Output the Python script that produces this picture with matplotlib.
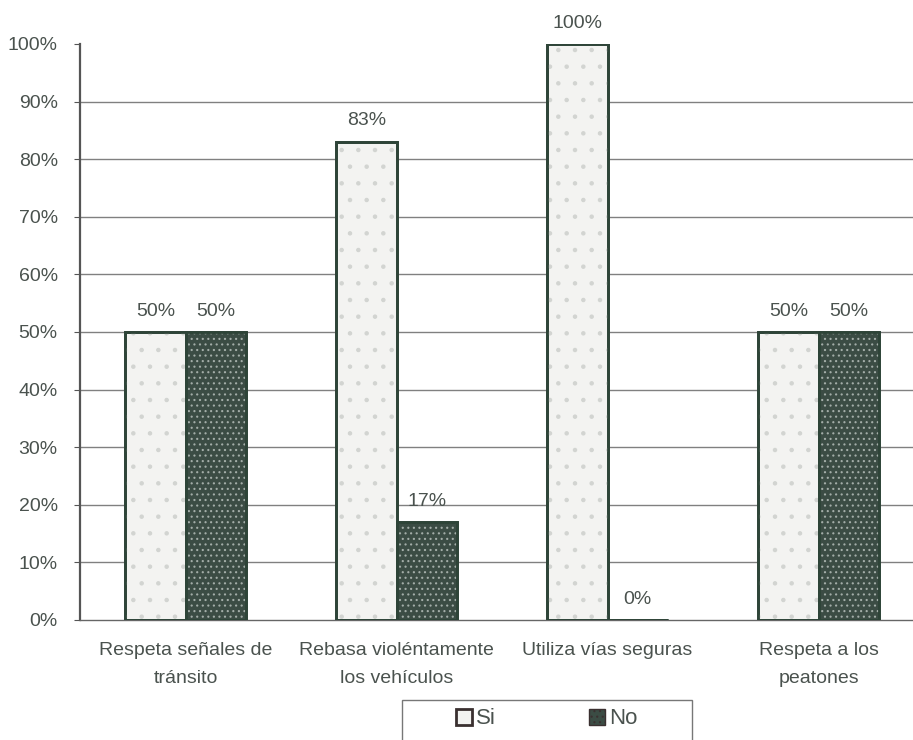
import matplotlib
matplotlib.use("Agg")
import matplotlib.pyplot as plt
import numpy as np
from matplotlib.patches import Rectangle, Patch
from matplotlib.ticker import PercentFormatter

plt.rcParams['font.family'] = ['Liberation Sans', 'DejaVu Sans']
plt.rcParams['hatch.linewidth'] = 0.8

categories = ["Respeta señales de\ntránsito",
              "Rebasa violéntamente\nlos vehículos",
              "Utiliza vías seguras",
              "Respeta a los\npeatones"]
si_values = [50, 83, 100, 50]
no_values = [50, 17, 0, 50]
series_names = ["Si", "No"]
y_ticks = [0, 10, 20, 30, 40, 50, 60, 70, 80, 90, 100]

text_color = "#4a524e"
edge_color = "#2e4438"
si_face = "#f3f3f1"
no_face = "#3b4c44"
fs = 14

fig = plt.figure(figsize=(9.13, 7.4), dpi=100)
ax = fig.add_axes([80 / 913, 1 - 620 / 740, 844 / 913, 576 / 740])

x = np.arange(len(categories))
w = 0.285

# light series: pale fill with sparse speckle
ax.bar(x - w / 2, si_values, w, color=si_face, edgecolor=edge_color, linewidth=2.0, zorder=3)
ax.bar(x - w / 2, si_values, w, fill=False, edgecolor="#d2d4d1", hatch=".", linewidth=0, zorder=3)
ax.bar(x - w / 2, si_values, w, fill=False, edgecolor=edge_color, linewidth=2.0, zorder=4)

# dark series: dark fill with a light dotted grid
ax.bar(x + w / 2, no_values, w, color=no_face, edgecolor=edge_color, linewidth=2.0, zorder=3)
ax.bar(x + w / 2, no_values, w, fill=False, edgecolor="#a3ada8", hatch="...", linewidth=0, zorder=3)
ax.bar(x + w / 2, no_values, w, fill=False, edgecolor=edge_color, linewidth=2.0, zorder=4)

for xi, v in zip(x - w / 2, si_values):
    ax.annotate(f"{v}%", (xi, v), xytext=(0, 9), textcoords="offset points",
                ha="center", va="bottom", fontsize=fs, color=text_color)
for xi, v in zip(x + w / 2, no_values):
    ax.annotate(f"{v}%", (xi, v), xytext=(0, 9), textcoords="offset points",
                ha="center", va="bottom", fontsize=fs, color=text_color)

ax.set_xlim(-0.5, len(categories) - 0.5)
ax.set_ylim(0, 100)
ax.set_yticks(y_ticks)
ax.yaxis.set_major_formatter(PercentFormatter(decimals=0))
ax.set_xticks(x)
ax.set_xticklabels(categories, fontsize=fs, color=text_color, linespacing=1.8)
ax.tick_params(axis="x", length=0, pad=16)
ax.tick_params(axis="y", labelsize=fs, labelcolor=text_color, length=4, color="#555555", pad=12)

for yv in y_ticks[1:-1]:
    ax.axhline(yv, color="#808080", linewidth=1.0, zorder=1)

for s in ["top", "right"]:
    ax.spines[s].set_visible(False)
ax.spines["left"].set_color("#555555")
ax.spines["left"].set_linewidth(1.6)
ax.spines["bottom"].set_color("#666666")
ax.spines["bottom"].set_linewidth(1.0)

# legend box at the bottom
fig.patches.append(Rectangle((402 / 913, -0.05), 290 / 913, 1 - 700 / 740 + 0.05,
                             transform=fig.transFigure, fill=False,
                             edgecolor="#777777", linewidth=1.0))
handles = [Patch(facecolor=si_face, edgecolor="#3a3030", linewidth=2.0),
           Patch(facecolor=no_face, edgecolor="#3a3030", hatch="...", linewidth=1.0)]
fig.legend(handles, series_names, loc="center", bbox_to_anchor=(547 / 913, 1 - 719 / 740),
           ncol=2, frameon=False, fontsize=16, columnspacing=4.2, handlelength=0.7,
           handleheight=0.7, handletextpad=0.2, labelcolor=text_color)

fig.savefig("out.png", dpi=100)
